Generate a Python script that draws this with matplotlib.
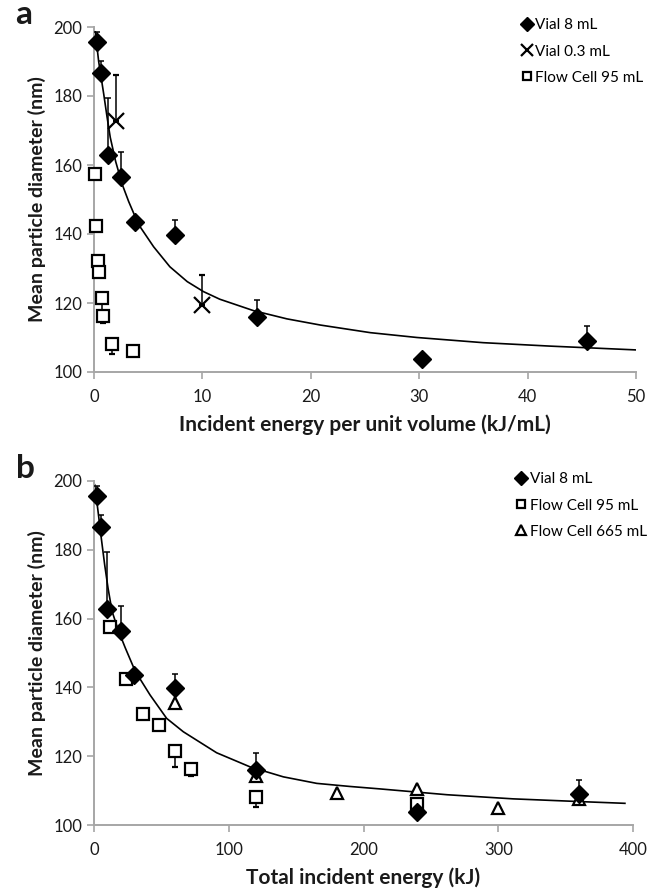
import numpy as np
import matplotlib
matplotlib.use("Agg")
import matplotlib.pyplot as plt

plt.rcParams['font.family'] = ['Lato', 'DejaVu Sans']

### data ###
# panel a: energy per unit volume (kJ/mL)
vial8_xa = [0.25, 0.625, 1.25, 2.5, 3.75, 7.5, 15, 30.3, 45.5]
vial8_y = [195.7, 186.7, 162.8, 156.5, 143.6, 139.8, 116.0, 103.8, 108.9]
vial8_up = [2.8, 3.4, 16.7, 7.3, 0.0, 4.2, 5.0, 0.0, 4.3]

vial03_xa = [2.0, 10.0]
vial03_y = [172.8, 119.5]
vial03_up = [13.2, 8.5]

flow95_xa = [0.12, 0.23, 0.33, 0.46, 0.70, 0.83, 1.7, 3.6]
flow95_y = [157.5, 142.3, 132.2, 129.1, 121.5, 116.2, 108.1, 106.0]
flow95_lo = [0.8, 0.8, 0.8, 0.8, 4.5, 2.0, 3.0, 0.5]

# fitted curve, points
fit_xa = [0.12, 0.43, 0.9, 1.2, 1.5, 2.0, 2.6, 3.2, 4.1, 5.5, 7.0, 8.6, 10.1,
          11.6, 14.7, 17.8, 20.9, 25.5, 29.8, 35.9, 42.1, 50.0]
fit_ya = [198.6, 190.0, 180.5, 174.0, 168.0, 161.0, 154.4, 149.4, 142.8, 136.3,
          130.5, 126.2, 123.3, 121.1, 117.8, 115.4, 113.6, 111.4, 110.0, 108.5,
          107.5, 106.4]

# panel b: total incident energy (kJ)
vial8_xb = [2, 5, 10, 20, 30, 60, 120, 240, 360]
flow95_xb = [12, 24, 36, 48, 60, 72, 120, 240]
flow665_xb = [60, 120, 180, 240, 300, 360]
flow665_y = [135.4, 114.2, 109.4, 110.4, 104.9, 107.5]

fit_xb = [0.5, 3, 5.4, 7.9, 10.4, 13.4, 18.3, 23.2, 30.6, 41.6, 53.9, 66.3, 91,
          115.8, 140.5, 165.3, 190, 212, 262, 311, 361, 394]
fit_yb = [198.9, 191.2, 183.4, 175.7, 168.9, 162.1, 156.3, 151.5, 144.7, 137.8,
          131.0, 127.1, 121.0, 116.9, 114.0, 112.1, 111.2, 110.5, 108.8, 107.6,
          106.8, 106.3]

grey = '#a6a6a6'
txt = '#1a1a1a'


def style_axes(ax, xmax, xstep, xlabel):
    ax.set_xlim(0, xmax)
    ax.set_ylim(100, 200)
    ax.set_xticks(np.arange(0, xmax + 1, xstep))
    ax.set_yticks(np.arange(100, 201, 20))
    for s in ['top', 'right']:
        ax.spines[s].set_visible(False)
    for s in ['left', 'bottom']:
        ax.spines[s].set_color(grey)
        ax.spines[s].set_linewidth(1.4)
    ax.tick_params(colors=grey, width=1.2, length=5, labelcolor=txt,
                   labelsize=12)
    ax.tick_params(axis='x', pad=7)
    ax.set_ylabel('Mean particle diameter (nm)', fontsize=14,
                  fontweight='bold', color=txt, labelpad=5)
    ax.set_xlabel(xlabel, fontsize=15, fontweight='bold', color=txt,
                  labelpad=7)


def no_clip(container):
    for art in container.get_children():
        art.set_clip_on(False)
    return container


def diamonds(ax, x):
    c = ax.errorbar(x, vial8_y, yerr=[np.zeros(len(vial8_up)), vial8_up],
                    fmt='D', ms=9, color='black', mec='black',
                    ecolor='black', elinewidth=1.1, capsize=2.5,
                    capthick=1.1, zorder=4)
    return no_clip(c)


def squares(ax, x):
    c = ax.errorbar(x, flow95_y, yerr=[flow95_lo, np.zeros(len(flow95_lo))],
                    fmt='s', ms=8, mfc='white', mec='black', mew=1.6,
                    ecolor='black', elinewidth=1.1, capsize=2.5,
                    capthick=1.1, zorder=3)
    return no_clip(c)


def add_legend(ax, handles, labels, ax_x, ax_y):
    ax.legend(handles, labels, loc='upper left', bbox_to_anchor=(ax_x, ax_y),
              frameon=False, fontsize=11, handlelength=0.6,
              handletextpad=0.25, labelspacing=0.8, markerscale=0.75,
              borderaxespad=0, borderpad=0)


fig = plt.figure(figsize=(6.47, 8.92), dpi=100)

### panel a ###
ax1 = fig.add_axes([94 / 647, 1 - 372 / 892, 542 / 647, 345 / 892])
ax1.plot(fit_xa, fit_ya, color='black', lw=1.2, zorder=2)
d1 = diamonds(ax1, vial8_xa)
x1 = ax1.errorbar(vial03_xa, vial03_y, yerr=[[0, 0], vial03_up], fmt='x',
                  ms=12, mew=1.6, color='black', ecolor='black',
                  elinewidth=1.1, capsize=2.5, capthick=1.1, zorder=4)
s1 = squares(ax1, flow95_xa)
style_axes(ax1, 50, 10, 'Incident energy per unit volume (kJ/mL)')
add_legend(ax1, [d1[0], x1[0], s1[0]],
           ['Vial 8 mL', 'Vial 0.3 mL', 'Flow Cell 95 mL'], 0.79, 1.025)
ax1.text(-0.145, 1.035, 'a', transform=ax1.transAxes, fontsize=24,
         fontweight='bold', color=txt, va='center')

### panel b ###
ax2 = fig.add_axes([94 / 647, 1 - 825 / 892, 539 / 647, 344 / 892])
ax2.plot(fit_xb, fit_yb, color='black', lw=1.2, zorder=2)
d2 = diamonds(ax2, vial8_xb)
s2 = squares(ax2, flow95_xb)
t2, = ax2.plot(flow665_xb, flow665_y, '^', ms=9, mfc='white', mec='black',
               mew=1.6, ls='none', zorder=3, clip_on=False)
style_axes(ax2, 400, 100, 'Total incident energy (kJ)')
add_legend(ax2, [d2[0], s2[0], t2],
           ['Vial 8 mL', 'Flow Cell 95 mL', 'Flow Cell 665 mL'], 0.784, 1.025)
ax2.text(-0.145, 1.035, 'b', transform=ax2.transAxes, fontsize=24,
         fontweight='bold', color=txt, va='center')

fig.savefig('out.png', dpi=100)
